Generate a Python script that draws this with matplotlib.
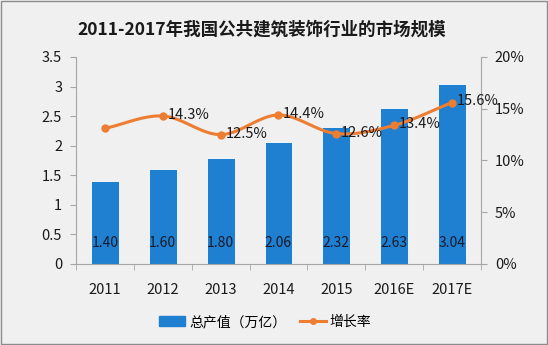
import matplotlib
matplotlib.use("Agg")
import matplotlib.pyplot as plt
from matplotlib.lines import Line2D
from matplotlib.patches import Patch
import numpy as np

plt.rcParams["font.family"] = ["Noto Sans CJK SC", "DejaVu Sans"]

years = ["2011", "2012", "2013", "2014", "2015", "2016E", "2017E"]
output = [1.40, 1.60, 1.80, 2.06, 2.32, 2.63, 3.04]
growth = [13.1, 14.3, 12.5, 14.4, 12.6, 13.4, 15.6]
growth_labels = ["", "14.3%", "12.5%", "14.4%", "12.6%", "13.4%", "15.6%"]

bar_color = "#1f7fd0"
line_color = "#ed7d31"
axis_color = "#a6a6a6"


def smooth(x, y, n=20):
    # catmull-rom curve through the points, only for drawing
    x = np.asarray(x, float)
    y = np.asarray(y, float)
    px = np.concatenate([[2 * x[0] - x[1]], x, [2 * x[-1] - x[-2]]])
    py = np.concatenate([[2 * y[0] - y[1]], y, [2 * y[-1] - y[-2]]])
    xs, ys = [], []
    t = np.linspace(0, 1, n)
    for i in range(1, len(px) - 2):
        for p, out in ((px, xs), (py, ys)):
            p0, p1, p2, p3 = p[i - 1], p[i], p[i + 1], p[i + 2]
            out.extend(0.5 * (2 * p1 + (-p0 + p2) * t
                              + (2 * p0 - 5 * p1 + 4 * p2 - p3) * t ** 2
                              + (-p0 + 3 * p1 - 3 * p2 + p3) * t ** 3))
    return xs, ys


fig = plt.figure(figsize=(5.48, 3.45), dpi=100, facecolor="#f0f0f0")
fig.patches.append(plt.Rectangle((0.002, 0.003), 0.996, 0.994, transform=fig.transFigure,
                                 fill=False, edgecolor="#8c8c8c", linewidth=1))
ax = fig.add_axes([0.1387, 0.2348, 0.7390, 0.6000])
ax.set_facecolor("none")

x = np.arange(len(years))
ax.bar(x, output, width=0.48, color=bar_color, edgecolor="white", linewidth=0.6, zorder=2)
for xi, v in zip(x, output):
    ax.text(xi, 0.36, f"{v:.2f}", ha="center", va="center", fontsize=10, color="#1a1a2a", zorder=4)

ax.set_xlim(-0.5, len(years) - 0.5)
ax.set_ylim(0, 3.5)
ax.set_yticks(np.arange(0, 3.51, 0.5))
ax.set_yticklabels(["0", "0.5", "1", "1.5", "2", "2.5", "3", "3.5"])
ax.set_xticks(x)
ax.set_xticklabels(years)
ax.set_xticks(np.arange(-0.5, len(years), 1), minor=True)
ax.tick_params(axis="x", which="major", length=0, pad=14, labelsize=10.5, labelcolor="#1a1a1a")
ax.tick_params(axis="x", which="minor", length=4, color=axis_color)
ax.tick_params(axis="y", length=4, color=axis_color, labelsize=10.5, labelcolor="#1a1a1a", pad=6)
for s in ["top", "right"]:
    ax.spines[s].set_visible(False)
for s in ["left", "bottom"]:
    ax.spines[s].set_color(axis_color)

ax2 = ax.twinx()
sx, sy = smooth(x, growth)
ax2.plot(sx, sy, color=line_color, linewidth=2.2, zorder=3)
ax2.plot(x, growth, "o", color=line_color, markersize=5, zorder=3)
for xi, g, lab in zip(x, growth, growth_labels):
    if lab:
        ax2.text(xi + 0.08, g + 0.1, lab, ha="left", va="center", fontsize=10.5, color="#1a1a1a")
ax2.set_ylim(0, 20)
ax2.set_yticks(np.arange(0, 21, 5))
ax2.set_yticklabels([f"{v}%" for v in range(0, 21, 5)])
ax2.tick_params(axis="y", length=4, color=axis_color, labelsize=10.5, labelcolor="#1a1a1a", pad=6)
for s in ["top", "left", "bottom"]:
    ax2.spines[s].set_visible(False)
ax2.spines["right"].set_color(axis_color)

fig.text(0.478, 0.913, "2011-2017年我国公共建筑装饰行业的市场规模", ha="center", va="center",
         fontsize=12.6, fontweight="bold", color="#1a1a1a")

handles = [Patch(facecolor=bar_color, edgecolor=bar_color),
           Line2D([0], [0], color=line_color, linewidth=2.2, marker="o", markersize=4)]
fig.legend(handles, ["总产值（万亿）", "增长率"], loc="center", bbox_to_anchor=(0.484, 0.067),
           ncol=2, frameon=False, fontsize=10, handlelength=1.9, columnspacing=1.0,
           handletextpad=0.25)

fig.savefig("out.png", dpi=100, facecolor=fig.get_facecolor())
